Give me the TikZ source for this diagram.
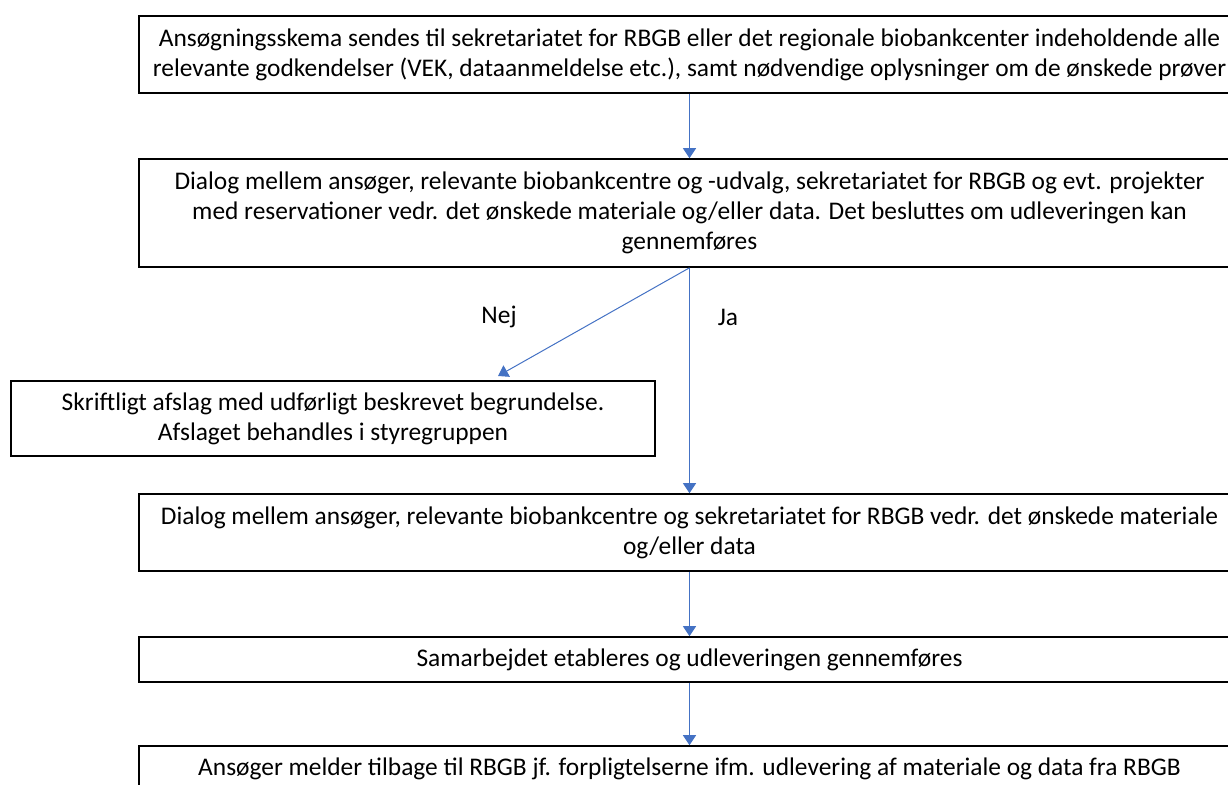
\documentclass[tikz,border=0pt]{standalone}
\usepackage{fontspec}
\setmainfont{Carlito}
\usetikzlibrary{arrows.meta}
\definecolor{flowblue}{HTML}{4472C4}
\tikzset{
  stepbox/.style={draw=black, line width=0.8pt, align=center, inner sep=0pt,
    font=\fontsize{12.7}{15}\selectfont},
  flow/.style={draw=flowblue, line width=0.5pt, -{Triangle[width=6.5pt,length=5pt]}},
  answer/.style={font=\fontsize{12.7}{15}\selectfont},
}
\begin{document}
\begin{tikzpicture}[x=0.5pt, y=-0.5pt]

  \useasboundingbox (0,0) rectangle (1228,785);
  \clip (0,0) rectangle (1228,785);

  \node[stepbox, minimum width=550.5pt, minimum height=38.5pt] (skema) at (689.5,54.5)
    {Ansøgningsskema sendes til sekretariatet for RBGB eller det regionale biobankcenter indeholdende alle\\
     relevante godkendelser (VEK, dataanmeldelse etc.), samt nødvendige oplysninger om de ønskede prøver};
  \node[stepbox, minimum width=550.5pt, minimum height=54pt] (dialog) at (689.5,213)
    {Dialog mellem ansøger, relevante biobankcentre og -udvalg, sekretariatet for RBGB og evt. projekter\\
     med reservationer vedr. det ønskede materiale og/eller data. Det besluttes om udleveringen kan\\
     gennemføres};
  \node[stepbox, minimum width=322pt, minimum height=37.5pt] (afslag) at (333,418.5)
    {Skriftligt afslag med udførligt beskrevet begrundelse.\\
     Afslaget behandles i styregruppen};
  \node[stepbox, minimum width=550.5pt, minimum height=38.5pt] (dialogto) at (689.5,532.5)
    {Dialog mellem ansøger, relevante biobankcentre og sekretariatet for RBGB vedr. det ønskede materiale\\
     og/eller data};
  \node[stepbox, minimum width=550.5pt, minimum height=22.5pt] (samarbejde) at (689.5,659.5)
    {Samarbejdet etableres og udleveringen gennemføres};
  \node[stepbox, minimum width=550.5pt, minimum height=22.5pt] (tilbage) at (689.5,768.5)
    {Ansøger melder tilbage til RBGB jf. forpligtelserne ifm. udlevering af materiale og data fra RBGB};

  \coordinate (nejend) at (498,376);

  \draw[flow] (skema.south) -- (dialog.north);
  \draw[flow] (dialog.south) -- (nejend);
  \draw[flow] (dialog.south) -- (dialogto.north);
  \draw[flow] (dialogto.south) -- (samarbejde.north);
  \draw[flow] (samarbejde.south) -- (tilbage.north);

  \node[answer] (nej) at (499,317) {Nej};
  \node[answer] (ja) at (728,317) {Ja};

\end{tikzpicture}
\end{document}
